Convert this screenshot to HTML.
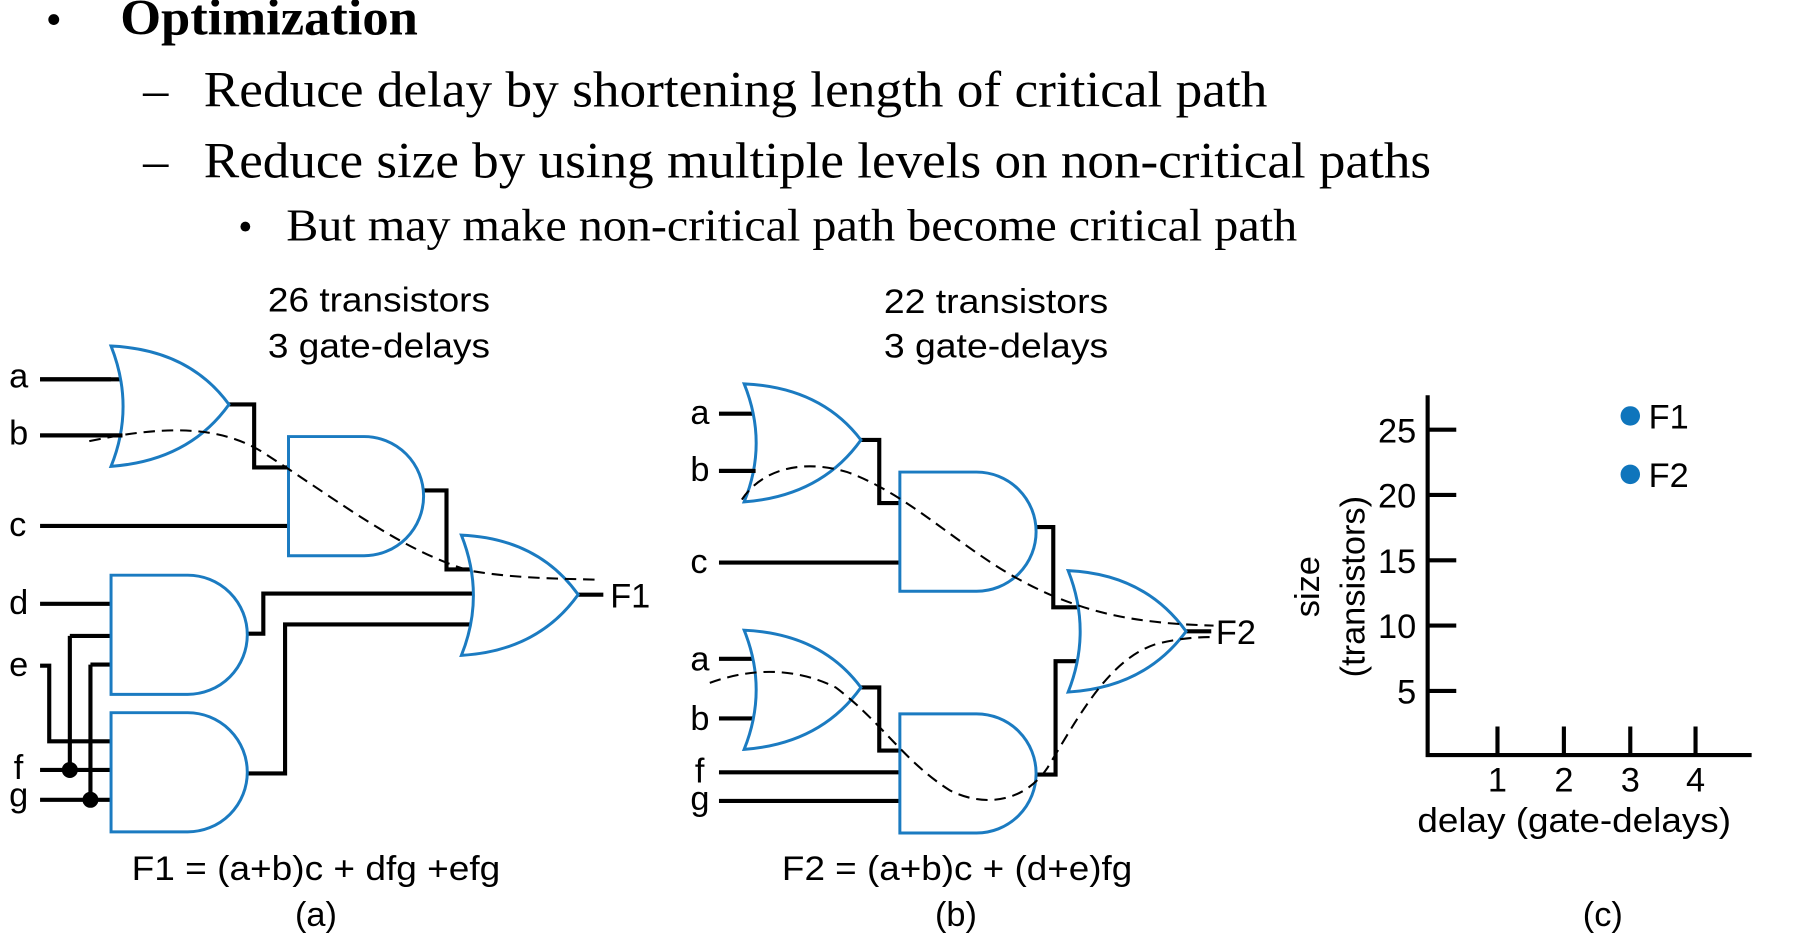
<!DOCTYPE html>
<html><head><meta charset="utf-8"><style>
html,body{margin:0;padding:0;background:#fff;width:1794px;height:943px;overflow:hidden}
svg{display:block}
.s{font-family:"Liberation Serif",serif;fill:#000}
.t{font-family:"Liberation Sans",sans-serif;fill:#000}
.g{fill:none;stroke:#1b7bc1;stroke-width:2.6}
.w{fill:none;stroke:#000;stroke-width:3.6}
.d{fill:none;stroke:#000;stroke-width:1.8;stroke-dasharray:10 6}
</style></head><body>
<svg width="1794" height="943" viewBox="0 0 1567 823" preserveAspectRatio="none">
<text class="s" x="40" y="30" font-size="40">•</text>
<text class="s" x="105" y="30" font-size="44" font-weight="bold" textLength="260" lengthAdjust="spacingAndGlyphs">Optimization</text>
<text class="s" x="125" y="93" font-size="44">–</text>
<text class="s" x="178" y="93" font-size="44" textLength="929" lengthAdjust="spacingAndGlyphs">Reduce delay by shortening length of critical path</text>
<text class="s" x="125" y="155" font-size="44">–</text>
<text class="s" x="178" y="155" font-size="44" textLength="1072" lengthAdjust="spacingAndGlyphs">Reduce size by using multiple levels on non-critical paths</text>
<text class="s" x="208" y="210" font-size="36">•</text>
<text class="s" x="250" y="210" font-size="40" textLength="883" lengthAdjust="spacingAndGlyphs">But may make non-critical path become critical path</text>

<!-- (a) -->
<g class="t" font-size="30">
<text x="234" y="272" textLength="194" lengthAdjust="spacingAndGlyphs">26 transistors</text>
<text x="234" y="312" textLength="194" lengthAdjust="spacingAndGlyphs">3 gate-delays</text>
<text x="8" y="338">a</text><text x="8" y="388">b</text><text x="8" y="468">c</text>
<text x="8" y="536">d</text><text x="8" y="590">e</text><text x="12" y="680">f</text><text x="8" y="704">g</text>
<text x="146" y="364" text-anchor="middle">4</text>
<text x="305" y="443" text-anchor="middle">4</text>
<text x="452" y="530" text-anchor="middle">6</text>
<text x="150" y="564" text-anchor="middle">6</text>
<text x="150" y="685" text-anchor="middle">6</text>
<text x="533" y="530">F1</text>
<text x="115" y="768" textLength="322" lengthAdjust="spacingAndGlyphs">F1 = (a+b)c + dfg +efg</text>
<text x="276" y="808" text-anchor="middle">(a)</text>
</g>
<g class="w">
<path d="M35 331H107M35 380H107M200 353H222V408H252M35 459H252M370 428H390V497H418M505 519H527"/>
<path d="M35 527H97M216 553H230V518H418M216 675H249V545H418"/>
<path d="M35 581H43V647H97M61 555H97M61 555V672M79 580H97M79 580V698M35 672H97M35 698H97"/>
</g>
<circle cx="61" cy="672" r="7"/><circle cx="79" cy="698" r="7"/>
<g class="g">
<path d="M97 302Q165 305 200 353Q165 402 97 407Q118 355 97 302Z" fill="#fff"/>
<path d="M252 381H318A52 52 0 0 1 318 485H252Z" fill="#fff"/>
<path d="M403 467Q470 470 505 519Q470 568 403 572Q424 520 403 467Z" fill="#fff"/>
<path d="M97 502H164A52 52 0 0 1 164 606H97Z" fill="#fff"/>
<path d="M97 622H164A52 52 0 0 1 164 726H97Z" fill="#fff"/>
</g>
<g class="w"><path d="M35 331H97M35 380H107"/></g>
<path class="d" d="M78 385C140 372 190 370 230 395C300 440 350 480 410 498C450 505 490 505 525 506"/>

<!-- (b) -->
<g class="t" font-size="30">
<text x="772" y="273" textLength="196" lengthAdjust="spacingAndGlyphs">22 transistors</text>
<text x="772" y="312" textLength="196" lengthAdjust="spacingAndGlyphs">3 gate-delays</text>
<text x="603" y="370">a</text><text x="603" y="420">b</text><text x="603" y="500">c</text>
<text x="603" y="585">a</text><text x="603" y="637">b</text><text x="607" y="683">f</text><text x="603" y="707">g</text>
<text x="700" y="397" text-anchor="middle">4</text>
<text x="838" y="474" text-anchor="middle">4</text>
<text x="700" y="611" text-anchor="middle">4</text>
<text x="838" y="685" text-anchor="middle">6</text>
<text x="983" y="562" text-anchor="middle">4</text>
<text x="1062" y="562">F2</text>
<text x="683" y="768" textLength="306" lengthAdjust="spacingAndGlyphs">F2 = (a+b)c + (d+e)fg</text>
<text x="835" y="808" text-anchor="middle">(b)</text>
</g>
<g class="w">
<path d="M628 361H663M628 411H663M752 384H768V439H786M628 491H786M905 460H920V530H947"/>
<path d="M628 575H663M628 627H663M752 600H768V655H786M628 674H786M628 699H786M905 676H922V577H946M1036 551H1058"/>
</g>
<g class="g">
<path d="M650 335Q717 338 752 384Q717 433 650 438Q671 387 650 335Z" fill="#fff"/>
<path d="M786 412H853A52 52 0 0 1 853 516H786Z" fill="#fff"/>
<path d="M650 550Q717 553 752 600Q717 649 650 654Q671 602 650 550Z" fill="#fff"/>
<path d="M786 623H853A52 52 0 0 1 853 727H786Z" fill="#fff"/>
<path d="M933 498Q1000 501 1036 551Q1000 600 933 604Q954 551 933 498Z" fill="#fff"/>
</g>
<path class="w" d="M628 411H660"/>
<path class="d" d="M648 436C665 410 700 400 740 412C790 430 830 470 880 500C940 535 990 544 1060 546"/>
<path class="d" d="M620 596C650 585 690 580 730 600C770 630 790 665 830 690C860 705 895 700 915 670C945 620 970 575 1010 562C1030 557 1045 556 1060 556"/>

<!-- (c) -->
<g class="w" stroke-width="2.6">
<path d="M1247 345V659H1530M1247 375H1272M1247 432H1272M1247 489H1272M1247 546H1272M1247 603H1272"/>
<path d="M1308 634V659M1366 634V659M1424 634V659M1481 634V659"/>
</g>
<g class="t" font-size="30">
<text x="1237" y="386" text-anchor="end">25</text>
<text x="1237" y="443" text-anchor="end">20</text>
<text x="1237" y="500" text-anchor="end">15</text>
<text x="1237" y="557" text-anchor="end">10</text>
<text x="1237" y="614" text-anchor="end">5</text>
<text x="1308" y="691" text-anchor="middle">1</text>
<text x="1366" y="691" text-anchor="middle">2</text>
<text x="1424" y="691" text-anchor="middle">3</text>
<text x="1481" y="691" text-anchor="middle">4</text>
<text x="1238" y="726" textLength="274" lengthAdjust="spacingAndGlyphs">delay (gate-delays)</text>
<text transform="translate(1152 512) rotate(-90)" text-anchor="middle">size</text>
<text transform="translate(1192 512) rotate(-90)" text-anchor="middle">(transistors)</text>
<text x="1440" y="374">F1</text>
<text x="1440" y="425">F2</text>
<text x="1400" y="808" text-anchor="middle">(c)</text>
</g>
<circle cx="1424" cy="363" r="8.5" fill="#0f75bc"/>
<circle cx="1424" cy="414" r="8.5" fill="#0f75bc"/>
</svg>
</body></html>
